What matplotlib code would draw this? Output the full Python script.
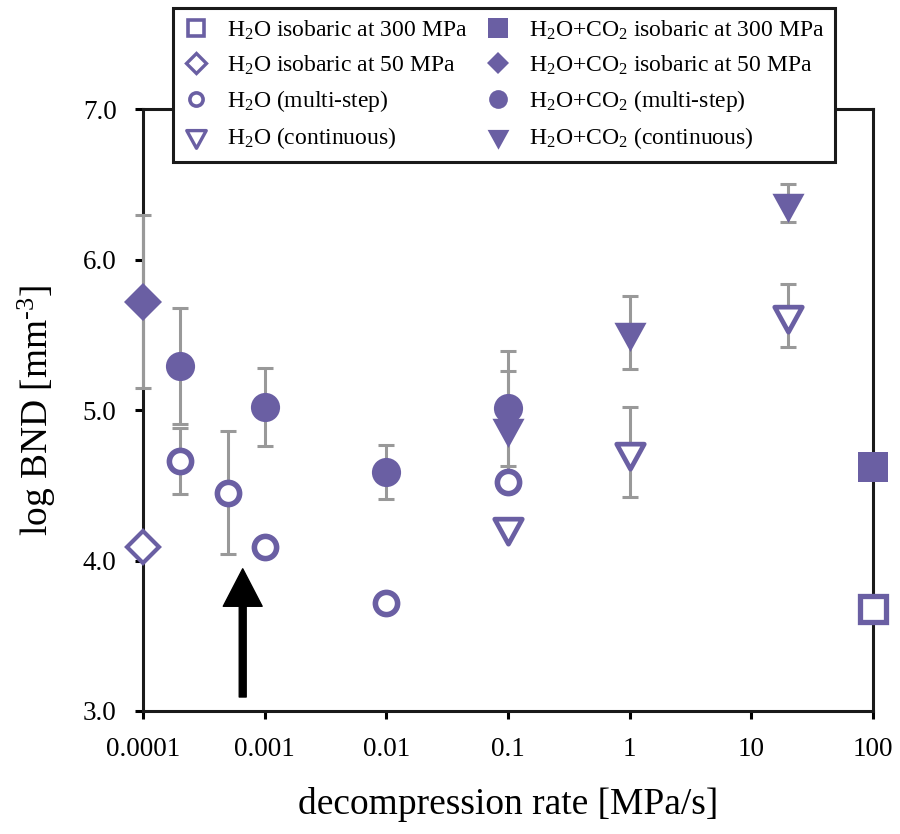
import numpy as np
import matplotlib
matplotlib.use('Agg')
import matplotlib.pyplot as plt
from matplotlib.path import Path
from matplotlib.lines import Line2D
from matplotlib.ticker import NullLocator

plt.rcParams['font.family'] = 'Liberation Serif'
plt.rcParams['mathtext.default'] = 'regular'

# decompression rates [MPa/s] and log BND values
rate_iso300 = [100]
h2o_iso300 = [3.68]
co2_iso300 = [4.62]

rate_iso50 = [0.0001]
h2o_iso50 = [4.09]
co2_iso50 = [5.72]
co2_iso50_err = [0.575]

rate_multi_h2o = [0.0002, 0.0005, 0.001, 0.01, 0.1]
h2o_multi = [4.66, 4.45, 4.09, 3.72, 4.52]
h2o_multi_err = [0.22, 0.41, 0, 0, 0]

rate_multi_co2 = [0.0002, 0.001, 0.01, 0.1]
co2_multi = [5.29, 5.02, 4.59, 5.01]
co2_multi_err = [0.385, 0.26, 0.18, 0.38]

rate_cont = [0.1, 1, 20]
h2o_cont = [4.22, 4.72, 5.63]
h2o_cont_err = [0, 0.30, 0.21]
co2_cont = [4.88, 5.515, 6.375]
co2_cont_err = [0.38, 0.24, 0.125]

xticks = [0.0001, 0.001, 0.01, 0.1, 1, 10, 100]
xticklabels = ['0.0001', '0.001', '0.01', '0.1', '1', '10', '100']
yticks = [3, 4, 5, 6, 7]

# arrow pointing at the slowest rate
arrow_x = 0.00066
arrow_y0 = 3.093
arrow_y1 = 3.945

purple = '#6a5fa3'
grey = '#999999'

# down triangle centred on its centroid
tri = Path([(0, -2), (-1.65, 1), (1.65, 1), (0, -2)],
           [Path.MOVETO, Path.LINETO, Path.LINETO, Path.CLOSEPOLY])

fig = plt.figure(figsize=(9, 8.34), dpi=100)
ax = fig.add_axes([143/900, 1 - 711/834, 730/900, 602/834])
ax.set_xscale('log')
ax.set_xlim(1e-4, 100)
ax.set_ylim(3, 7)


def errs(x, y, e):
    x, y, e = np.asarray(x), np.asarray(y), np.asarray(e)
    m = e > 0
    eb = ax.errorbar(x[m], y[m], yerr=e[m], fmt='none', ecolor=grey,
                     elinewidth=2.2, capsize=6, capthick=2.2, zorder=3)
    for a in eb.lines[1] + eb.lines[2]:
        a.set_clip_on(False)


def pts(x, y, marker, ms, filled, mew=0):
    ax.plot(x, y, ls='none', marker=marker, ms=ms,
            mfc=purple if filled else 'white', mec=purple, mew=mew,
            clip_on=False, zorder=4)


errs(rate_iso50, co2_iso50, co2_iso50_err)
errs(rate_multi_h2o, h2o_multi, h2o_multi_err)
errs(rate_multi_co2, co2_multi, co2_multi_err)
errs(rate_cont, h2o_cont, h2o_cont_err)
errs(rate_cont, co2_cont, co2_cont_err)

pts(rate_iso300, h2o_iso300, 's', 18.5, False, 3.8)
pts(rate_iso300, co2_iso300, 's', 22, True)
pts(rate_iso50, h2o_iso50, 'D', 16, False, 3.0)
pts(rate_iso50, co2_iso50, 'D', 19.5, True)
pts(rate_multi_h2o, h2o_multi, 'o', 16, False, 4.0)
pts(rate_multi_co2, co2_multi, 'o', 21, True)
pts(rate_cont, h2o_cont, tri, 24, False, 3.4)
pts(rate_cont, co2_cont, tri, 28, True)

ax.annotate('', xy=(arrow_x, arrow_y1), xytext=(arrow_x, arrow_y0),
            arrowprops=dict(width=5, headwidth=28, headlength=27,
                            facecolor='black', edgecolor='black', shrink=0))

ax.set_xticks(xticks)
ax.set_xticklabels(xticklabels)
ax.xaxis.set_minor_locator(NullLocator())
ax.set_yticks(yticks)
ax.set_yticklabels(['%.1f' % v for v in yticks])
ax.tick_params(direction='out', length=6, width=2.2, labelsize=19.5, pad=13)
for s in ax.spines.values():
    s.set_linewidth(2.2)
    s.set_color('#1a1a1a')

ax.set_xlabel('decompression rate [MPa/s]', fontsize=27, labelpad=18)
ax.set_ylabel('log BND [mm$^{\u2010 3}$]', fontsize=27, labelpad=18)

# legend with smaller symbols
handles = [
    Line2D([], [], ls='none', marker='s', ms=11, mfc='white', mec=purple, mew=2.6),
    Line2D([], [], ls='none', marker='D', ms=10, mfc='white', mec=purple, mew=2.4),
    Line2D([], [], ls='none', marker='o', ms=9.5, mfc='white', mec=purple, mew=2.6),
    Line2D([], [], ls='none', marker=tri, ms=17, mfc='white', mec=purple, mew=2.4),
    Line2D([], [], ls='none', marker='s', ms=15, mfc=purple, mec=purple, mew=0),
    Line2D([], [], ls='none', marker='D', ms=11.5, mfc=purple, mec=purple, mew=0),
    Line2D([], [], ls='none', marker='o', ms=13.5, mfc=purple, mec=purple, mew=0),
    Line2D([], [], ls='none', marker=tri, ms=19, mfc=purple, mec=purple, mew=0),
]
labels = [
    'H$_2$O isobaric at 300 MPa',
    'H$_2$O isobaric at 50 MPa',
    'H$_2$O (multi-step)',
    'H$_2$O (continuous)',
    'H$_2$O+CO$_2$ isobaric at 300 MPa',
    'H$_2$O+CO$_2$ isobaric at 50 MPa',
    'H$_2$O+CO$_2$ (multi-step)',
    'H$_2$O+CO$_2$ (continuous)',
]
leg = fig.legend(handles, labels, ncol=2, loc='upper left',
                 bbox_to_anchor=(173/900, 1 - 8/834), fontsize=17,
                 frameon=True, fancybox=False, edgecolor='#1a1a1a',
                 framealpha=1, borderpad=0.45, handlelength=1.05,
                 handletextpad=0.8, columnspacing=0.75, labelspacing=0.48,
                 borderaxespad=0)
leg.get_frame().set_linewidth(2.2)

fig.savefig('out.png', dpi=100)
